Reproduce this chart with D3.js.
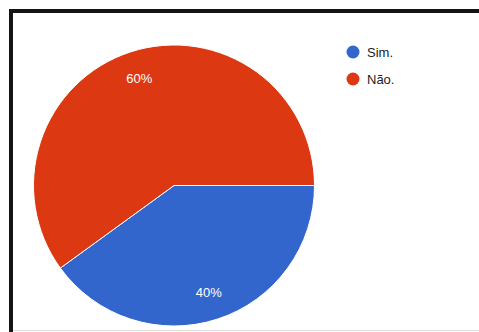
<!DOCTYPE html>
<html>
<head>
<meta charset="utf-8">
<script src="https://cdn.jsdelivr.net/npm/d3@7"></script>
<style>
  html, body { margin: 0; padding: 0; background: #fff; }
  svg { display: block; }
  text { font-family: Arial, "Liberation Sans", sans-serif; }
</style>
</head>
<body>
<svg id="chart" width="479" height="332"></svg>
<script>
// Survey answers and their shares
const categories = ["Sim.", "Não."];
const values = [40, 60];
const colors = ["#3366cc", "#dc3912"];

const svg = d3.select("#chart");
const W = 479, H = 332;

svg.append("rect").attr("width", W).attr("height", H).attr("fill", "#fff");

// Frame: heavy top and left rules, faint bottom rule
svg.append("rect").attr("x", 9).attr("y", 9).attr("width", W - 9).attr("height", 4).attr("fill", "#151515");
svg.append("rect").attr("x", 9).attr("y", 9).attr("width", 4).attr("height", H - 9).attr("fill", "#151515");
svg.append("rect").attr("x", 13).attr("y", 330).attr("width", W - 13).attr("height", 1).attr("fill", "#dcdcdc");

const cx = 174, cy = 185.5, r = 140.5;

const pie = d3.pie()
  .value((d, i) => values[i])
  .sort(null)
  .startAngle(Math.PI / 2)
  .endAngle(Math.PI / 2 + 2 * Math.PI);

const arcs = pie(categories);
const arc = d3.arc().innerRadius(0).outerRadius(r);
const labelArc = d3.arc().innerRadius(r * 0.8).outerRadius(r * 0.8);

const g = svg.append("g").attr("transform", `translate(${cx},${cy})`);

g.selectAll("path.slice")
  .data(arcs)
  .join("path")
  .attr("class", "slice")
  .attr("d", arc)
  .attr("fill", (d, i) => colors[i])
  .attr("stroke", "#fff")
  .attr("stroke-width", 1);

const total = d3.sum(values);
g.selectAll("text.pct")
  .data(arcs)
  .join("text")
  .attr("class", "pct")
  .attr("transform", d => `translate(${labelArc.centroid(d)})`)
  .attr("text-anchor", "middle")
  .attr("dominant-baseline", "central")
  .attr("fill", "#fff")
  .attr("font-size", 13)
  .text((d, i) => Math.round(values[i] / total * 100) + "%");

// Legend
const legend = svg.append("g").attr("transform", "translate(353,52)");
const item = legend.selectAll("g.item")
  .data(categories)
  .join("g")
  .attr("class", "item")
  .attr("transform", (d, i) => `translate(0,${i * 27})`);

item.append("circle").attr("r", 6.5).attr("fill", (d, i) => colors[i]);
item.append("text")
  .attr("x", 14)
  .attr("dominant-baseline", "central")
  .attr("font-size", 13)
  .attr("fill", "#222")
  .text(d => d);
</script>
</body>
</html>
